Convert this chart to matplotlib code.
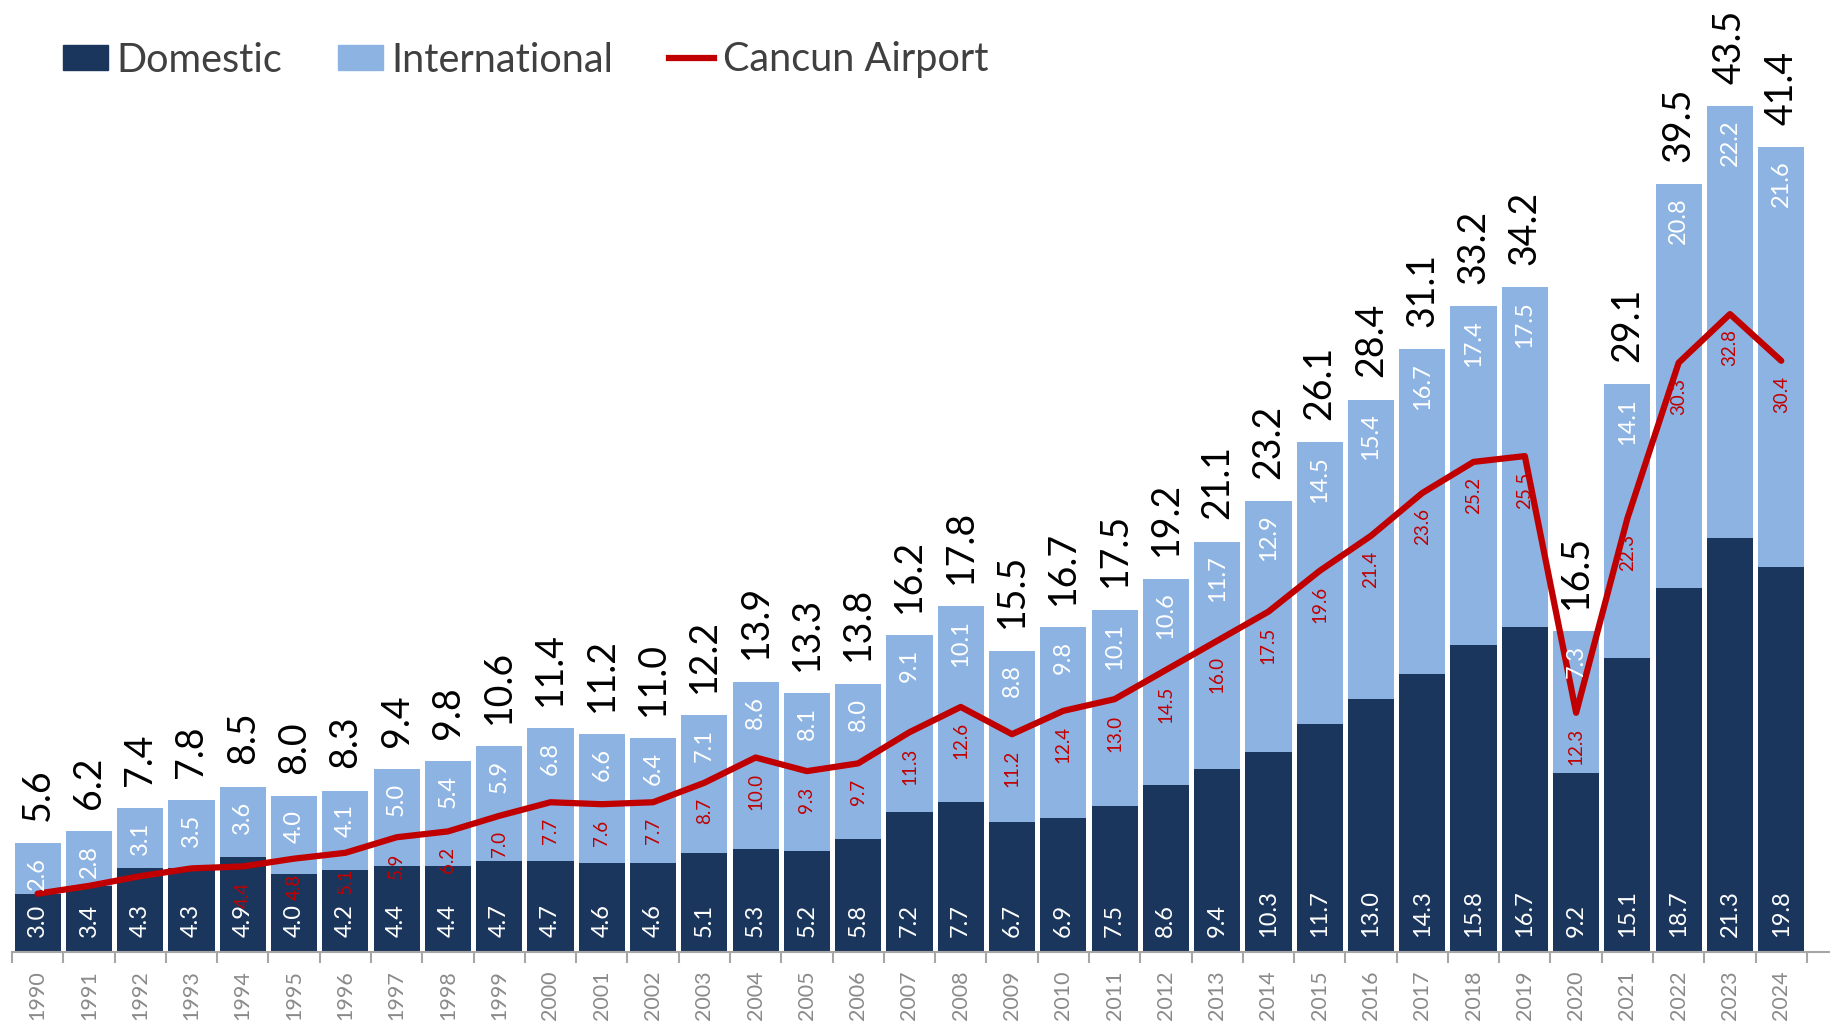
import numpy as np
import matplotlib.pyplot as plt
from matplotlib.patches import Patch
from matplotlib.lines import Line2D

plt.rcParams['font.family'] = ['Lato', 'DejaVu Sans']

# passengers, millions
years = list(range(1990, 2025))
domestic = [3.0, 3.4, 4.3, 4.3, 4.9, 4.0, 4.2, 4.4, 4.4, 4.7, 4.7, 4.6, 4.6, 5.1, 5.3,
            5.2, 5.8, 7.2, 7.7, 6.7, 6.9, 7.5, 8.6, 9.4, 10.3, 11.7, 13.0, 14.3, 15.8,
            16.7, 9.2, 15.1, 18.7, 21.3, 19.8]
international = [2.6, 2.8, 3.1, 3.5, 3.6, 4.0, 4.1, 5.0, 5.4, 5.9, 6.8, 6.6, 6.4, 7.1,
                 8.6, 8.1, 8.0, 9.1, 10.1, 8.8, 9.8, 10.1, 10.6, 11.7, 12.9, 14.5, 15.4,
                 16.7, 17.4, 17.5, 7.3, 14.1, 20.8, 22.2, 21.6]
totals = [5.6, 6.2, 7.4, 7.8, 8.5, 8.0, 8.3, 9.4, 9.8, 10.6, 11.4, 11.2, 11.0, 12.2,
          13.9, 13.3, 13.8, 16.2, 17.8, 15.5, 16.7, 17.5, 19.2, 21.1, 23.2, 26.1, 28.4,
          31.1, 33.2, 34.2, 16.5, 29.1, 39.5, 43.5, 41.4]
cancun = [3.0, 3.4, 3.9, 4.3, 4.4, 4.8, 5.1, 5.9, 6.2, 7.0, 7.7, 7.6, 7.7, 8.7, 10.0,
          9.3, 9.7, 11.3, 12.6, 11.2, 12.4, 13.0, 14.5, 16.0, 17.5, 19.6, 21.4, 23.6,
          25.2, 25.5, 12.3, 22.3, 30.3, 32.8, 30.4]
first_cancun_label = 1994  # earlier labels are not shown in the original

NAVY = '#1b365d'
LIGHT = '#8db3e2'
RED = '#c00000'

W, H = 1831, 1030
fig = plt.figure(figsize=(W / 100, H / 100), dpi=100)
ax = fig.add_axes([12 / W, 1 - 952 / H, 1 - 12 / W, 952 / H])

x = np.arange(len(years))
dom = np.array(domestic)
intl = np.array(international)
ax.bar(x, dom, 0.9, color=NAVY, zorder=2)
ax.bar(x, intl, 0.9, bottom=dom, color=LIGHT, zorder=2)
ax.plot(x, cancun, color=RED, lw=4.5, solid_capstyle='round',
        solid_joinstyle='round', zorder=3)

for i in x:
    top = dom[i] + intl[i]
    ax.annotate(f'{dom[i]:.1f}', (i, 0), xytext=(0, 11), textcoords='offset points',
                rotation=90, ha='center', va='bottom', color='white', fontsize=17, zorder=4)
    ax.annotate(f'{intl[i]:.1f}', (i, top), xytext=(0, -10), textcoords='offset points',
                rotation=90, ha='center', va='top', color='white', fontsize=17, zorder=4)
    ax.annotate(f'{totals[i]:.1f}', (i, top), xytext=(0, 16), textcoords='offset points',
                rotation=90, ha='center', va='bottom', color='black', fontsize=27, zorder=4)
    if years[i] >= first_cancun_label:
        ax.annotate(f'{cancun[i]:.1f}', (i, cancun[i]), xytext=(0, -11),
                    textcoords='offset points', rotation=90, ha='center', va='top',
                    color=RED, fontsize=13.5, zorder=4)

ax.set_xlim(-0.5, 34.97)
ax.set_ylim(0, 48.95)
ax.set_yticks([])
ax.set_xticks(x, [str(y) for y in years])
ax.set_xticks(np.arange(-0.5, 35, 1), minor=True)
ax.tick_params(axis='x', which='major', length=0, pad=13, labelsize=15.5,
               labelcolor='#8a8a8a', labelrotation=90)
ax.tick_params(axis='x', which='minor', length=8, width=1.5, color='#a6a6a6')
for s in ['top', 'left', 'right']:
    ax.spines[s].set_visible(False)
ax.spines['bottom'].set_color('#a6a6a6')
ax.spines['bottom'].set_linewidth(1.5)

handles = [Patch(color=NAVY), Patch(color=LIGHT), Line2D([], [], color=RED, lw=4.5)]
fig.legend(handles, ['Domestic', 'International', 'Cancun Airport'], ncol=3,
           loc='center left', bbox_to_anchor=(63 / W, 1 - 60 / H), frameon=False,
           fontsize=28.5, labelcolor='#404040', handlelength=1.14, handleheight=0.6,
           handletextpad=0.22, columnspacing=1.4, borderpad=0, borderaxespad=0)

fig.savefig('out.png', dpi=100)
